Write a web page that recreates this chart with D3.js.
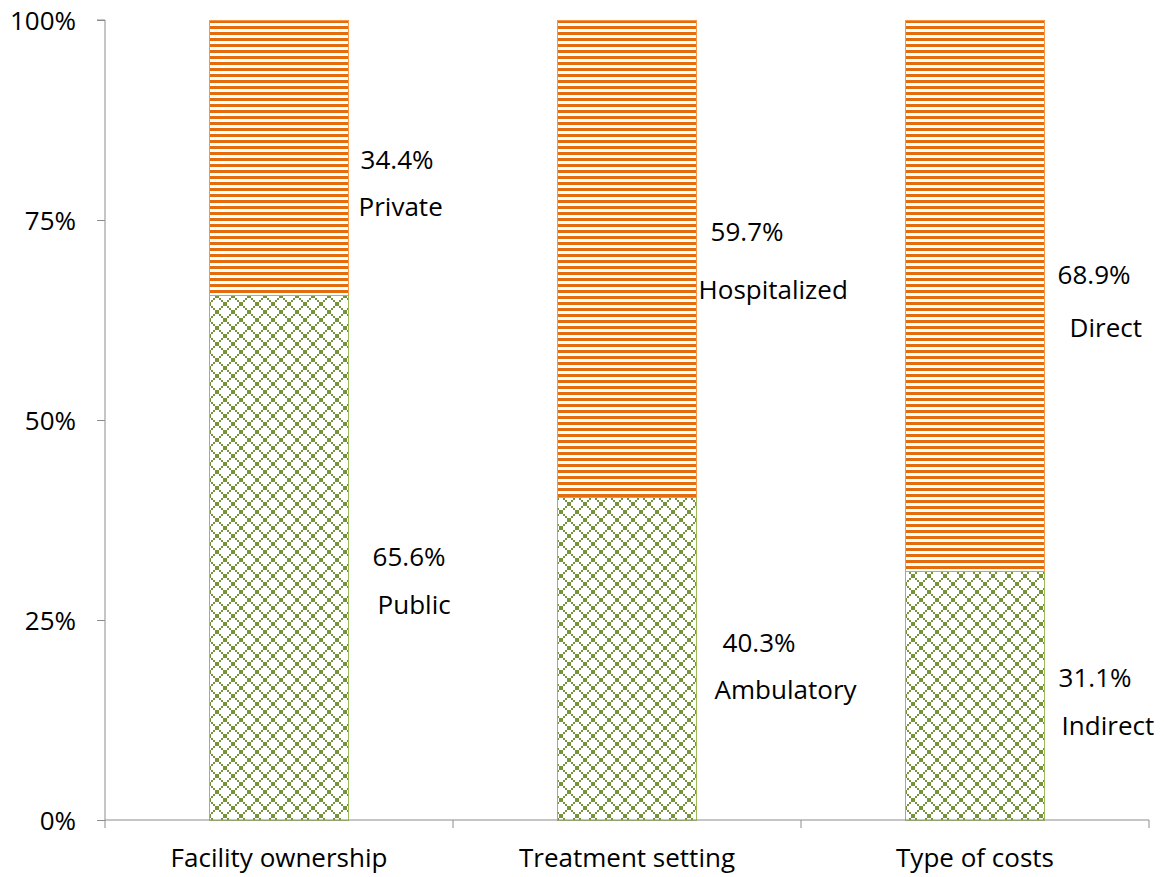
<!DOCTYPE html>
<html>
<head>
<meta charset="utf-8">
<script src="https://cdn.jsdelivr.net/npm/d3@7"></script>
<style>
  html, body { margin: 0; padding: 0; background: #fff; }
  svg text { font-family: "Open Sans", Lato, sans-serif; fill: #000; }
</style>
</head>
<body>
<svg id="chart" width="1164" height="877"></svg>
<script>
// Share of costs (%) split across three breakdowns
const categories = ["Facility ownership", "Treatment setting", "Type of costs"];
const lowerShare = [65.6, 40.3, 31.1];
const upperShare = [34.4, 59.7, 68.9];
const lowerNames = ["Public", "Ambulatory", "Indirect"];
const upperNames = ["Private", "Hospitalized", "Direct"];
const yTicks = [0, 25, 50, 75, 100];

// Hand-placed label offsets: [pct dx, name dx, pct dy, name dy] from bar edge / segment middle
const lowerLabelOffsets = [[24, 29, -1, 47], [26, 18, -16, 31], [14, 17, -18, 30]];
const upperLabelOffsets = [[12, 10, 2, 49], [14, 2, -27, 31], [13, 25, -21, 32]];

const FONT = 26;
const margin = { left: 105, right: 15, top: 20, bottom: 57 };
const W = 1164, H = 877;
const svg = d3.select("#chart");

const x = d3.scaleBand()
  .domain(categories)
  .range([margin.left, W - margin.right])
  .paddingInner(0.6)
  .paddingOuter(0.3);
const xBand = d3.scaleBand().domain(categories).range([margin.left, W - margin.right]);
const y = d3.scaleLinear().domain([0, 100]).range([H - margin.bottom, margin.top]);

// Fill patterns
const defs = svg.append("defs");
const stripes = defs.append("pattern")
  .attr("id", "stripes").attr("patternUnits", "userSpaceOnUse")
  .attr("width", 6).attr("height", 6).attr("y", margin.top);
stripes.append("rect").attr("width", 6).attr("height", 6).attr("fill", "#fff");
stripes.append("rect").attr("width", 6).attr("height", 3).attr("fill", "#E46C0A");

// Diamond lattice: an 8x8 X motif drawn with 2x2 pixel blocks
const lattice = defs.append("pattern")
  .attr("id", "lattice").attr("patternUnits", "userSpaceOnUse")
  .attr("width", 16).attr("height", 16).attr("x", 1);
lattice.append("rect").attr("width", 16).attr("height", 16).attr("fill", "#fff");
const cells = d3.range(8).flatMap(k => [[k, k], [7 - k, k]]);
lattice.selectAll("rect.px").data(cells).join("rect")
  .attr("class", "px")
  .attr("x", d => d[0] * 2).attr("y", d => d[1] * 2)
  .attr("width", 2).attr("height", 2)
  .attr("fill", "#77933C");

// Bars
const g = svg.append("g").attr("shape-rendering", "crispEdges");
categories.forEach((c, i) => {
  g.append("rect")
    .attr("x", x(c)).attr("width", x.bandwidth())
    .attr("y", y(lowerShare[i])).attr("height", y(0) - y(lowerShare[i]))
    .attr("fill", "url(#lattice)")
    .attr("stroke", "#9BBB59").attr("stroke-width", 1);
  g.append("rect")
    .attr("x", x(c)).attr("width", x.bandwidth())
    .attr("y", y(lowerShare[i] + upperShare[i])).attr("height", y(lowerShare[i]) - y(lowerShare[i] + upperShare[i]))
    .attr("fill", "url(#stripes)")
    .attr("stroke", "#F79646").attr("stroke-width", 1);
});

// Axes
const axisColor = "#8c8c8c";
const yAxis = svg.append("g")
  .attr("transform", `translate(${margin.left},0)`)
  .call(d3.axisLeft(y).tickValues(yTicks).tickSize(8).tickPadding(21).tickFormat(d => d + "%"));
yAxis.select(".domain").attr("stroke", axisColor).attr("d", `M-8,${y(100)}H0V${y(0)}`);
yAxis.selectAll(".tick line").attr("stroke", axisColor);
yAxis.selectAll(".tick text").attr("font-size", FONT).attr("font-family", null).attr("dy", "0.36em");

const xAxis = svg.append("g").attr("transform", `translate(0,${y(0)})`);
xAxis.append("line")
  .attr("x1", margin.left).attr("x2", W - margin.right)
  .attr("stroke", axisColor);
const bounds = categories.map(c => xBand(c)).concat([xBand(categories[2]) + xBand.bandwidth()]);
xAxis.selectAll(".xt").data(bounds).join("line")
  .attr("x1", d => d).attr("x2", d => d).attr("y1", 0).attr("y2", 8)
  .attr("stroke", axisColor);
xAxis.selectAll(".xl").data(categories).join("text")
  .attr("x", d => x(d) + x.bandwidth() / 2).attr("y", 38)
  .attr("dy", "0.36em").attr("text-anchor", "middle")
  .attr("font-size", FONT).text(d => d);

// Data labels
function addLabel(i, share, base, name, off) {
  const edge = x(categories[i]) + x.bandwidth();
  const mid = y(base + share / 2);
  svg.append("text").attr("x", edge + off[0]).attr("y", mid + off[2])
    .attr("dy", "0.36em").attr("font-size", FONT).text(share.toFixed(1) + "%");
  svg.append("text").attr("x", edge + off[1]).attr("y", mid + off[3])
    .attr("dy", "0.36em").attr("font-size", FONT).text(name);
}
categories.forEach((c, i) => {
  addLabel(i, lowerShare[i], 0, lowerNames[i], lowerLabelOffsets[i]);
  addLabel(i, upperShare[i], lowerShare[i], upperNames[i], upperLabelOffsets[i]);
});
</script>
</body>
</html>
